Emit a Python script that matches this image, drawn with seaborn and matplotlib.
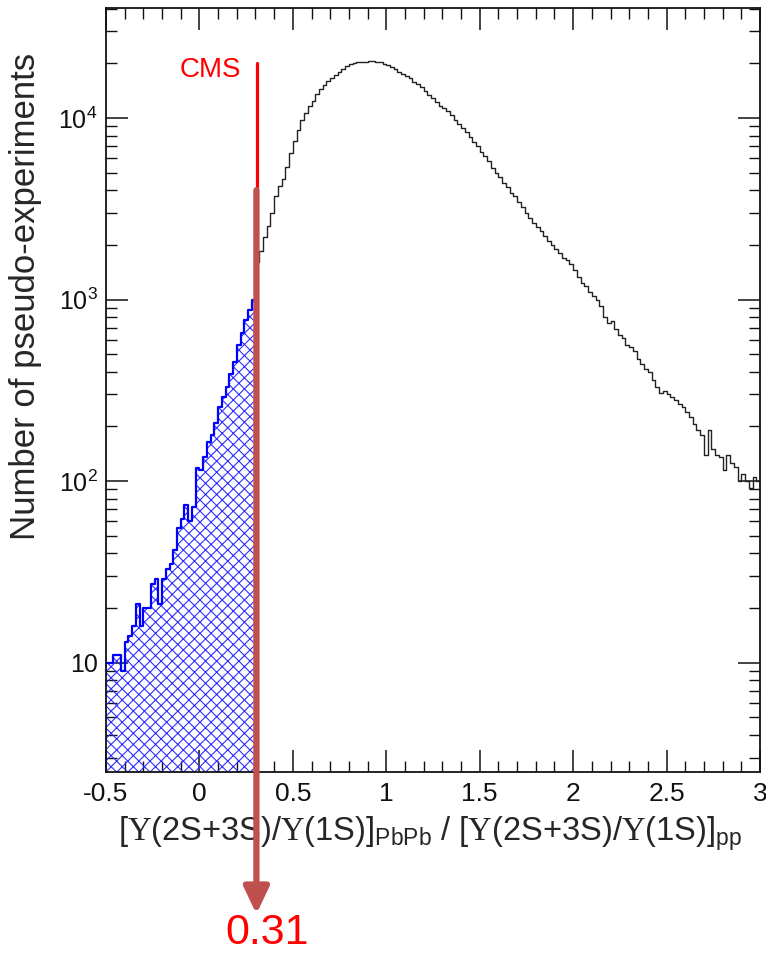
import numpy as np
import pandas as pd
import matplotlib
matplotlib.use("Agg")
import matplotlib.pyplot as plt
from matplotlib.ticker import FixedLocator, FixedFormatter, LogLocator, MultipleLocator, NullFormatter
import seaborn as sns

# histogram of pseudo-experiments, 0.02 wide bins
BIN_WIDTH = 0.02
X_START = -0.5

# bins from -0.5 to 0.30 (shaded part)
blue_counts = [10, 10, 11, 11, 9, 13, 14, 16, 21, 16,
               20, 20, 27, 29, 21, 29, 33, 35, 42, 55,
               62, 74, 60, 72, 118, 115, 135, 165, 180, 210,
               255, 290, 330, 390, 450, 560, 650, 770, 880, 1000]

# bins from 0.30 to 3.0
black_counts = [1600, 1850, 2200, 2550, 3000, 3700, 4200, 4600, 5350, 6400,
                7500, 8600, 9800, 10700, 11700, 12400, 13500, 14400, 15100, 15900,
                16500, 17200, 17800, 18500, 19300, 19900, 20100, 20200, 20200, 20300,
                20500, 20700, 20400, 20200, 19900, 19500, 19000, 18500, 17900, 17500,
                17000, 16500, 15800, 15400, 14800, 14100, 13400, 12900, 12300, 11700,
                11300, 10900, 10400, 9700, 9300, 8800, 8400, 7900, 7400, 7000,
                6500, 6200, 5800, 5300, 4950, 4700, 4400, 4150, 3850, 3700,
                3450, 3250, 3000, 2800, 2650, 2500, 2380, 2250, 2100, 2000,
                1900, 1800, 1700, 1650, 1560, 1450, 1330, 1240, 1180, 1100,
                1050, 990, 920, 800, 740, 760, 690, 640, 610, 560,
                545, 520, 470, 440, 415, 400, 360, 330, 305, 315,
                300, 290, 280, 265, 255, 240, 225, 205, 190, 180,
                140, 190, 150, 140, 135, 115, 140, 125, 120, 100,
                110, 100, 92, 105, 100]

cms_value = 0.31
cms_line_top = 2.0e4
arrow_top = 4000
x_ticks = [-0.5, 0, 0.5, 1, 1.5, 2, 2.5, 3]
x_tick_labels = ["-0.5", "0", "0.5", "1", "1.5", "2", "2.5", "3"]
y_ticks = [10, 100, 1000, 10000]
y_tick_labels = ["10", r"10$^{\mathsf{2}}$", r"10$^{\mathsf{3}}$", r"10$^{\mathsf{4}}$"]
x_label = (r"[$\Upsilon$(2S+3S)/$\Upsilon$(1S)]$_{\mathsf{PbPb}}$ / "
           r"[$\Upsilon$(2S+3S)/$\Upsilon$(1S)]$_{\mathsf{pp}}$")
y_label = "Number of pseudo-experiments"

sns.set_theme(style="ticks")
plt.rcParams["font.family"] = ["Liberation Sans", "DejaVu Sans"]
plt.rcParams["mathtext.fontset"] = "custom"
plt.rcParams["mathtext.rm"] = "Liberation Serif"
plt.rcParams["mathtext.sf"] = "Liberation Sans"
plt.rcParams["mathtext.it"] = "Liberation Sans:italic"
plt.rcParams["hatch.linewidth"] = 0.8

blue_edges = X_START + BIN_WIDTH * np.arange(len(blue_counts) + 1)
black_edges = blue_edges[-1] + BIN_WIDTH * np.arange(len(black_counts) + 1)
blue_df = pd.DataFrame({"x": blue_edges[:-1] + BIN_WIDTH / 2, "n": blue_counts})
black_df = pd.DataFrame({"x": black_edges[:-1] + BIN_WIDTH / 2, "n": black_counts})
blue_bins = blue_edges.tolist()
black_bins = black_edges.tolist()

fig = plt.figure(figsize=(7.66, 9.58), dpi=100)
ax = fig.add_axes([106 / 766, 186 / 958, 654 / 766, 764 / 958])

# hatched fill for the region below the CMS value
sns.histplot(data=blue_df, x="x", weights="n", bins=blue_bins, element="step",
             fill=True, ax=ax, color="blue")
fill = ax.collections[-1]
fill.set_facecolor("none")
fill.set_edgecolor("#3030ff")
fill.set_linewidth(0)
fill.set_hatch("xxx")
sns.histplot(data=blue_df, x="x", weights="n", bins=blue_bins, element="step",
             fill=False, ax=ax, color="#0000ff", linewidth=1.6)
sns.histplot(data=black_df, x="x", weights="n", bins=black_bins, element="step",
             fill=False, ax=ax, color="#222222", linewidth=1.0)

ax.set_yscale("log")
ax.set_xlim(-0.5, 3.0)
ax.set_ylim(2.5, 40300)

ax.plot([cms_value, cms_value], [2.5, cms_line_top], color="#ff0000", lw=2.3, zorder=5)
ax.text(0.222, 2.17e4, "CMS", color="#ff0000", fontsize=20, ha="right", va="top")

ax.annotate("", xy=(0.305, 44 / 958), xycoords=("data", "figure fraction"),
            xytext=(0.305, arrow_top), textcoords="data", annotation_clip=False,
            arrowprops=dict(arrowstyle="-|>,head_length=0.8,head_width=0.38",
                            color="#c0504d", lw=4.5, shrinkA=0, shrinkB=0,
                            mutation_scale=20), zorder=6)
fig.text(267 / 766, 1 - 933 / 958, "0.31", color="#ff0000", fontsize=31,
         ha="center", va="center")

ax.xaxis.set_major_locator(FixedLocator(x_ticks))
ax.xaxis.set_major_formatter(FixedFormatter(x_tick_labels))
ax.xaxis.set_minor_locator(MultipleLocator(0.1))
ax.yaxis.set_major_locator(FixedLocator(y_ticks))
ax.yaxis.set_major_formatter(FixedFormatter(y_tick_labels))
ax.yaxis.set_minor_locator(LogLocator(base=10, subs=np.arange(2, 10)))
ax.yaxis.set_minor_formatter(NullFormatter())

ax.tick_params(which="both", direction="in", top=True, right=True, colors="#111111")
ax.tick_params(which="major", length=16, width=1.1)
ax.tick_params(which="minor", length=8, width=1.0)
ax.tick_params(axis="x", which="major", labelsize=19, pad=7)
ax.tick_params(axis="y", which="major", labelsize=18, pad=6)
for s in ax.spines.values():
    s.set_linewidth(1.3)
    s.set_color("#111111")

ax.set_xlabel(x_label, fontsize=23.5)
ax.set_ylabel(y_label, fontsize=25)
ax.xaxis.set_label_coords(0.495, -0.056)
ax.yaxis.set_label_coords(-0.098, 0.623)

fig.savefig("out.png", dpi=100)
